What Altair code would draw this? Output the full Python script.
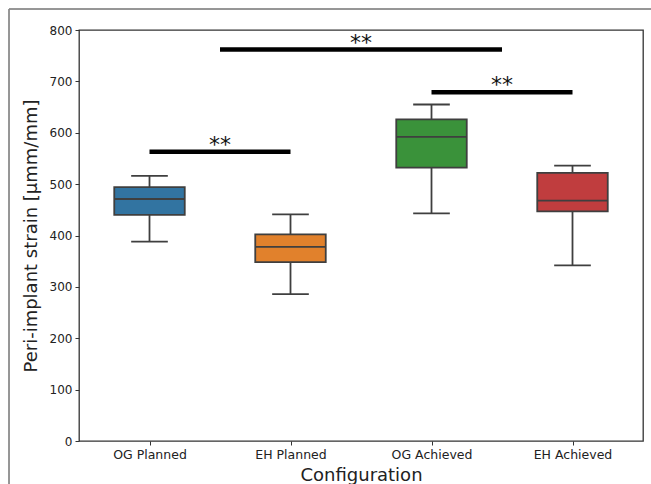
import altair as alt
import pandas as pd

categories = ["OG Planned", "EH Planned", "OG Achieved", "EH Achieved"]
whisker_low = [388, 286, 443, 342]
q1 = [440, 348, 532, 447]
median = [471, 378, 592, 468]
q3 = [494, 402, 626, 522]
whisker_high = [516, 441, 655, 536]
colors = ["#3274A1", "#E1812C", "#3A923A", "#C03D3E"]

sig_start = [0, 0.5, 2]
sig_end = [1, 2.5, 3]
sig_level = [563, 762, 679]
sig_label = ["**", "**", "**"]

box_df = pd.DataFrame({
    "idx": list(range(len(categories))),
    "cat": categories,
    "low": whisker_low,
    "q1": q1,
    "med": median,
    "q3": q3,
    "high": whisker_high,
})
sig_df = pd.DataFrame({
    "start": sig_start,
    "end": sig_end,
    "level": sig_level,
    "label": sig_label,
})

label_expr = "[" + ",".join("'" + c + "'" for c in categories) + "][datum.value]"

x_scale = alt.Scale(domain=[-0.5, len(categories) - 0.5], nice=False, zero=False)
y_scale = alt.Scale(domain=[0, 800], nice=False)

x_axis = alt.Axis(
    values=list(range(len(categories))), labelExpr=label_expr, title="Configuration",
    grid=False, domain=False, tickSize=4, tickColor="#333", labelFont="DejaVu Sans",
    labelFontSize=12.5, labelColor="#222", titleFont="DejaVu Sans", titleFontSize=18,
    titleFontWeight="normal", titleColor="#222", labelPadding=3, titlePadding=6,
)
y_axis = alt.Axis(
    values=list(range(0, 801, 100)), title="Peri-implant strain [µmm/mm]",
    grid=False, domain=False, tickSize=4, tickColor="#333", labelFont="DejaVu Sans",
    labelFontSize=12, labelColor="#222", titleFont="DejaVu Sans", titleFontSize=18,
    titleFontWeight="normal", titleColor="#222", labelPadding=3, titlePadding=9,
)

base = alt.Chart(box_df).transform_calculate(
    left="datum.idx - 0.25", right="datum.idx + 0.25",
    capl="datum.idx - 0.13", capr="datum.idx + 0.13",
)
edge = "#3f3f3f"
lw = 1.8

whisk_lo = base.mark_rule(color=edge, strokeWidth=lw).encode(
    x=alt.X("idx:Q", scale=x_scale, axis=x_axis),
    y=alt.Y("low:Q", scale=y_scale, axis=y_axis),
    y2="q1:Q",
)
whisk_hi = base.mark_rule(color=edge, strokeWidth=lw).encode(
    x="idx:Q", y="q3:Q", y2="high:Q",
)
cap_lo = base.mark_rule(color=edge, strokeWidth=lw).encode(
    x="capl:Q", x2="capr:Q", y="low:Q",
)
cap_hi = base.mark_rule(color=edge, strokeWidth=lw).encode(
    x="capl:Q", x2="capr:Q", y="high:Q",
)
boxes = base.mark_bar(stroke=edge, strokeWidth=lw, opacity=1).encode(
    x="left:Q", x2="right:Q", y="q1:Q", y2="q3:Q",
    color=alt.Color("cat:N", scale=alt.Scale(domain=categories, range=colors), legend=None),
)
med = base.mark_rule(color=edge, strokeWidth=lw).encode(
    x="left:Q", x2="right:Q", y="med:Q",
)

sig_base = alt.Chart(sig_df)
sig_rules = sig_base.mark_rule(color="black", strokeWidth=4.5).encode(
    x="start:Q", x2="end:Q", y="level:Q",
)
sig_text = sig_base.transform_calculate(mid="(datum.start + datum.end) / 2").mark_text(
    font="DejaVu Sans", fontSize=22, color="#111", align="center", baseline="alphabetic", dy=0,
).encode(x="mid:Q", y="level:Q", text="label:N")

frame_top = alt.Chart(sig_df).mark_rule(color="#888", strokeWidth=1).encode(
    x=alt.value(-70), x2=alt.value(580), y=alt.value(-21),
)
frame_left = alt.Chart(sig_df).mark_rule(color="#888", strokeWidth=1).encode(
    x=alt.value(-70), y=alt.value(-21), y2=alt.value(460),
)

chart = alt.layer(
    frame_top, frame_left, whisk_lo, whisk_hi, cap_lo, cap_hi, boxes, med, sig_rules, sig_text
).properties(
    width=564, height=411,
    autosize=alt.AutoSizeParams(type="none"),
    padding={"left": 79, "top": 30, "right": 8, "bottom": 43},
    background="white",
).configure_view(stroke="#333", strokeWidth=1.3)

chart.save("out.html", embed_options={"renderer": "svg", "actions": False})
